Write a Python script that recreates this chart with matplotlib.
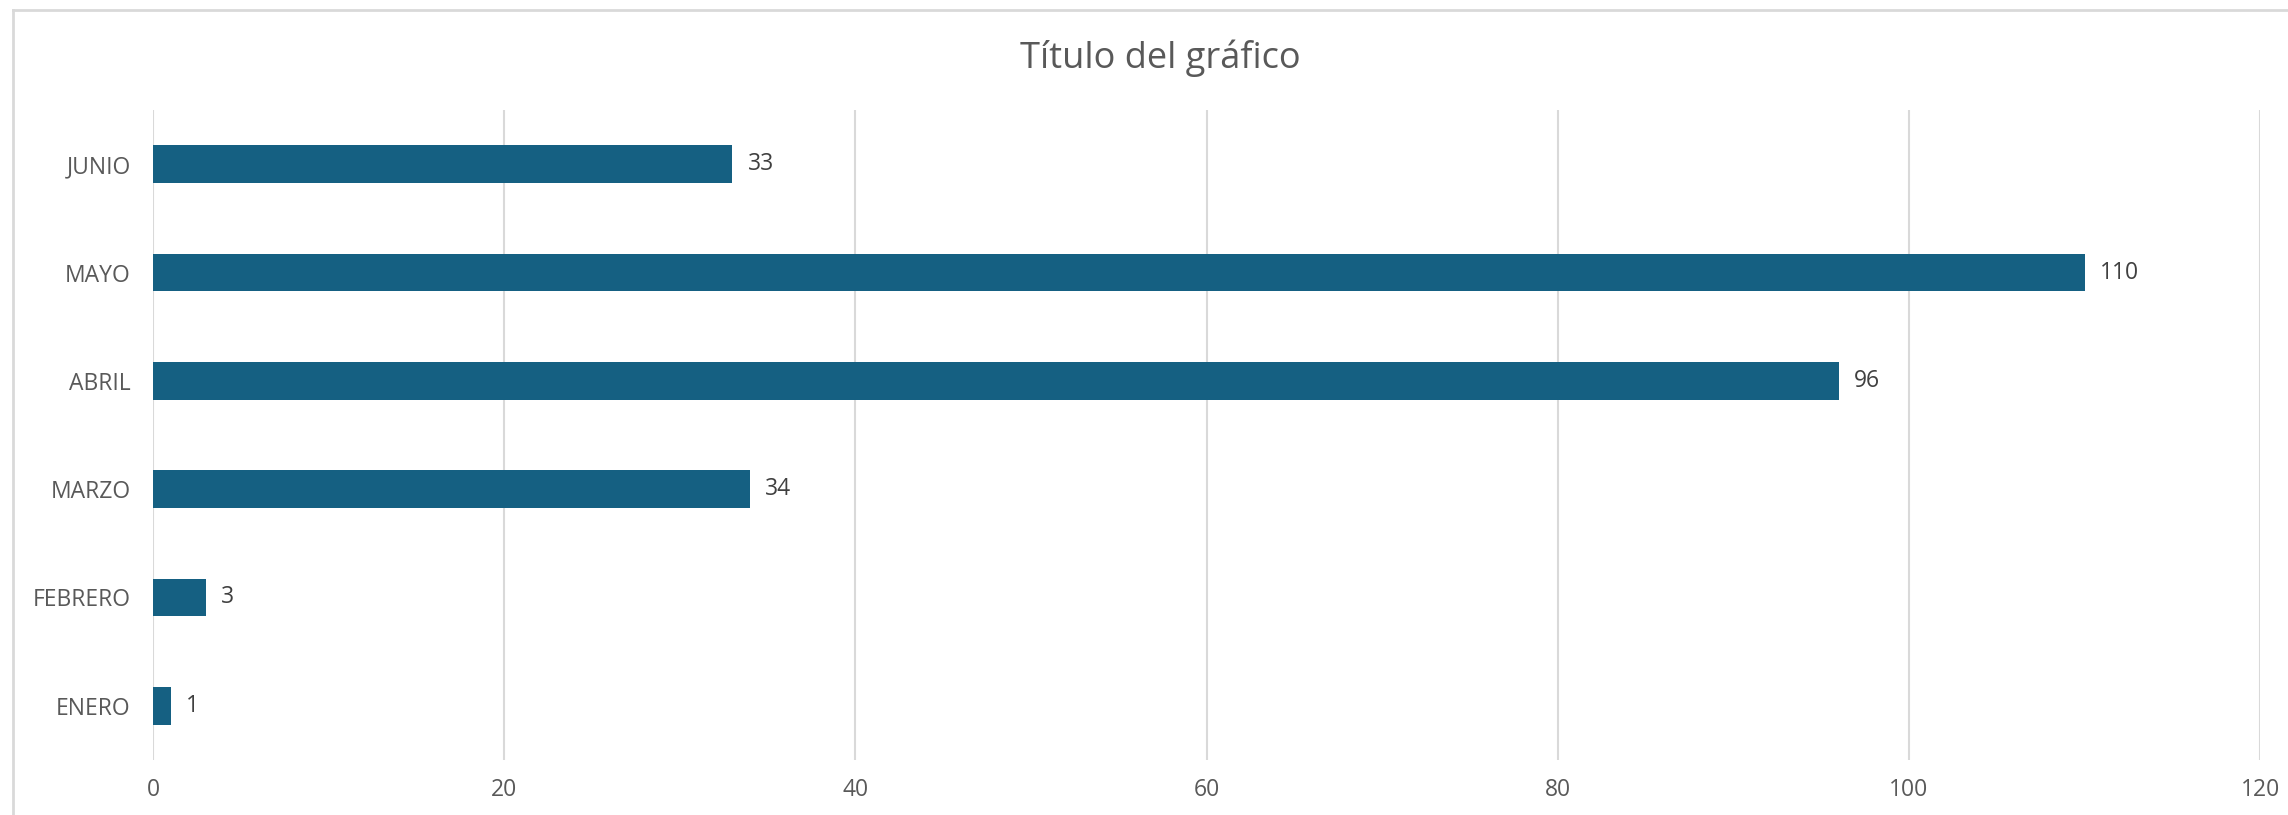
import numpy as np
import matplotlib
matplotlib.use('Agg')
import matplotlib.pyplot as plt
from matplotlib.lines import Line2D

plt.rcParams['font.family'] = ['Open Sans', 'DejaVu Sans']

meses = ['ENERO', 'FEBRERO', 'MARZO', 'ABRIL', 'MAYO', 'JUNIO']
valores = [1, 3, 34, 96, 110, 33]
ticks_x = [0, 20, 40, 60, 80, 100, 120]

azul = '#156082'
gris_texto = '#595959'
gris_linea = '#d9d9d9'

fig = plt.figure(figsize=(22.88, 8.15), dpi=100)
ax = fig.add_axes([0.0669, 0.0675, 0.9209, 0.7975])

y = np.arange(len(meses))
barras = ax.barh(y, valores, height=0.35, color=azul, zorder=3)

for b, v in zip(barras, valores):
    ax.annotate(str(v), xy=(b.get_width(), b.get_y() + b.get_height() / 2),
                xytext=(11, 0), textcoords='offset points',
                ha='left', va='center', fontsize=16.5, color='#404040')

ax.set_xlim(0, 120)
ax.set_ylim(-0.5, len(meses) - 0.5)
ax.set_xticks(ticks_x)
ax.set_yticks(y)
ax.set_yticklabels(meses)
ax.tick_params(axis='both', length=0, labelsize=16.5, labelcolor=gris_texto)
ax.tick_params(axis='y', pad=16)
ax.tick_params(axis='x', pad=13)
ax.grid(axis='x', color=gris_linea, linewidth=1.5, zorder=0)
for s in ax.spines.values():
    s.set_visible(False)

fig.text(0.507, 0.928, 'Título del gráfico', ha='center', va='center',
         fontsize=26, color=gris_texto)

# borde del area del grafico
fig.add_artist(Line2D([13 / 2288, 13 / 2288], [0, 1 - 10 / 815],
                      color=gris_linea, linewidth=2, transform=fig.transFigure))
fig.add_artist(Line2D([13 / 2288, 1], [1 - 10 / 815, 1 - 10 / 815],
                      color=gris_linea, linewidth=2, transform=fig.transFigure))

fig.savefig('out.png', dpi=100, facecolor='white')
